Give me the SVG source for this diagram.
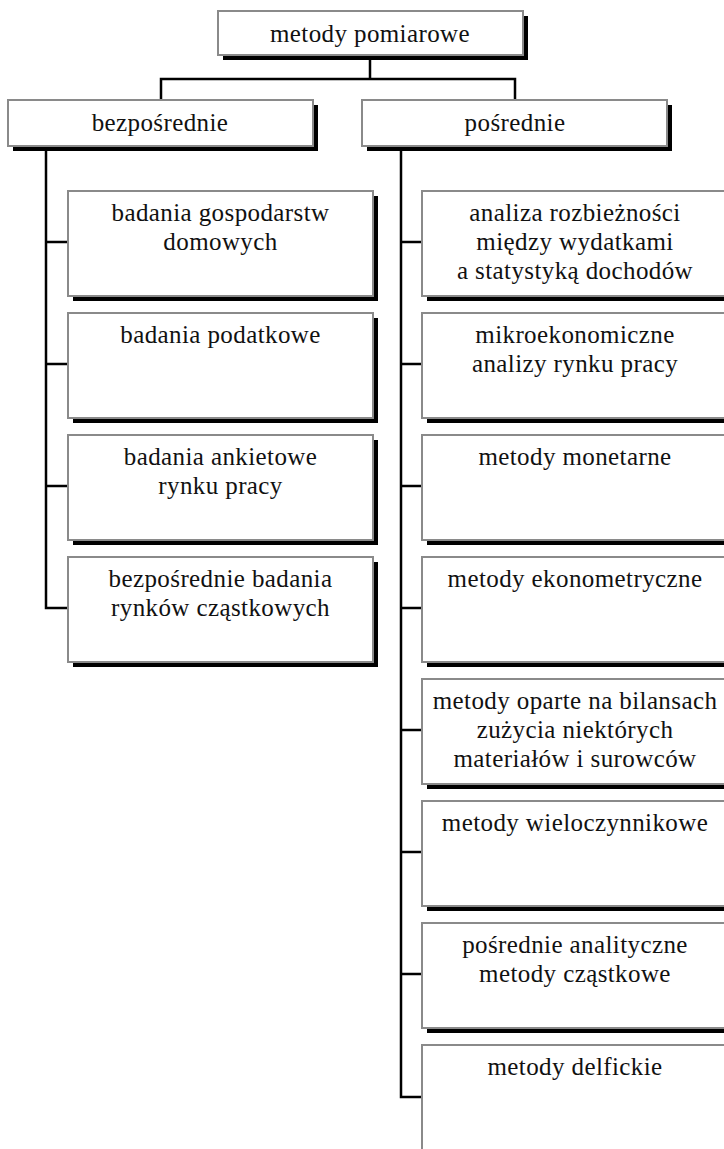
<svg xmlns="http://www.w3.org/2000/svg" width="724" height="1149" viewBox="0 0 724 1149">
<style>
.sh{fill:#000}
.bx{fill:#fff;stroke:#8a8a8a;stroke-width:2}
.t{font-family:"Liberation Serif","Times New Roman",serif;font-size:25px;fill:#111;text-anchor:middle;letter-spacing:0.4px}
.c{stroke:#000;stroke-width:2.5;fill:none}
</style>
<rect width="724" height="1149" fill="#fff"/>
<g id="connectors">
<path class="c" d="M370 55V79M161 100V79H515V100"/>
<path class="c" d="M46 146V608H68M46 242H68M46 364H68M46 486H68"/>
<path class="c" d="M401 146V1097H422M401 242H422M401 364H422M401 486H422M401 608H422M401 730H422M401 852H422M401 974H422"/>
</g>
<g id="root"><rect class="sh" x="223" y="16" width="305" height="44"/><rect class="bx" x="218" y="11" width="305" height="44"/><text class="t" x="370" y="42">metody pomiarowe</text></g>
<g id="bezposrednie"><rect class="sh" x="13" y="105" width="305" height="46"/><rect class="bx" x="8" y="100" width="305" height="46"/><text class="t" x="160" y="131">bezpośrednie</text></g>
<g id="posrednie"><rect class="sh" x="367" y="105" width="305" height="46"/><rect class="bx" x="362" y="100" width="305" height="46"/><text class="t" x="515" y="131">pośrednie</text></g>
<g id="l1"><rect class="sh" x="73" y="196" width="305" height="105"/><rect class="bx" x="68" y="191" width="305" height="105"/><text class="t" x="220.5" y="221">badania gospodarstw<tspan x="220.5" dy="29">domowych</tspan></text></g>
<g id="l2"><rect class="sh" x="73" y="318" width="305" height="105"/><rect class="bx" x="68" y="313" width="305" height="105"/><text class="t" x="220.5" y="343">badania podatkowe</text></g>
<g id="l3"><rect class="sh" x="73" y="440" width="305" height="105"/><rect class="bx" x="68" y="435" width="305" height="105"/><text class="t" x="220.5" y="465">badania ankietowe<tspan x="220.5" dy="29">rynku pracy</tspan></text></g>
<g id="l4"><rect class="sh" x="73" y="562" width="305" height="105"/><rect class="bx" x="68" y="557" width="305" height="105"/><text class="t" x="220.5" y="587">bezpośrednie badania<tspan x="220.5" dy="29">rynków cząstkowych</tspan></text></g>
<g id="r1"><rect class="sh" x="427" y="196" width="306" height="105"/><rect class="bx" x="422" y="191" width="306" height="105"/><text class="t" x="575" y="221">analiza rozbieżności<tspan x="575" dy="29">między wydatkami</tspan><tspan x="575" dy="29">a statystyką dochodów</tspan></text></g>
<g id="r2"><rect class="sh" x="427" y="318" width="306" height="105"/><rect class="bx" x="422" y="313" width="306" height="105"/><text class="t" x="575" y="343">mikroekonomiczne<tspan x="575" dy="29">analizy rynku pracy</tspan></text></g>
<g id="r3"><rect class="sh" x="427" y="440" width="306" height="105"/><rect class="bx" x="422" y="435" width="306" height="105"/><text class="t" x="575" y="465">metody monetarne</text></g>
<g id="r4"><rect class="sh" x="427" y="562" width="306" height="105"/><rect class="bx" x="422" y="557" width="306" height="105"/><text class="t" x="575" y="587">metody ekonometryczne</text></g>
<g id="r5"><rect class="sh" x="427" y="684" width="306" height="105"/><rect class="bx" x="422" y="679" width="306" height="105"/><text class="t" x="575" y="709">metody oparte na bilansach<tspan x="575" dy="29">zużycia niektórych</tspan><tspan x="575" dy="29">materiałów i surowców</tspan></text></g>
<g id="r6"><rect class="sh" x="427" y="806" width="306" height="105"/><rect class="bx" x="422" y="801" width="306" height="105"/><text class="t" x="575" y="831">metody wieloczynnikowe</text></g>
<g id="r7"><rect class="sh" x="427" y="928" width="306" height="105"/><rect class="bx" x="422" y="923" width="306" height="105"/><text class="t" x="575" y="953">pośrednie analityczne<tspan x="575" dy="29">metody cząstkowe</tspan></text></g>
<g id="r8"><rect class="sh" x="427" y="1050" width="306" height="105"/><rect class="bx" x="422" y="1045" width="306" height="105"/><text class="t" x="575" y="1075">metody delfickie</text></g>
</svg>
